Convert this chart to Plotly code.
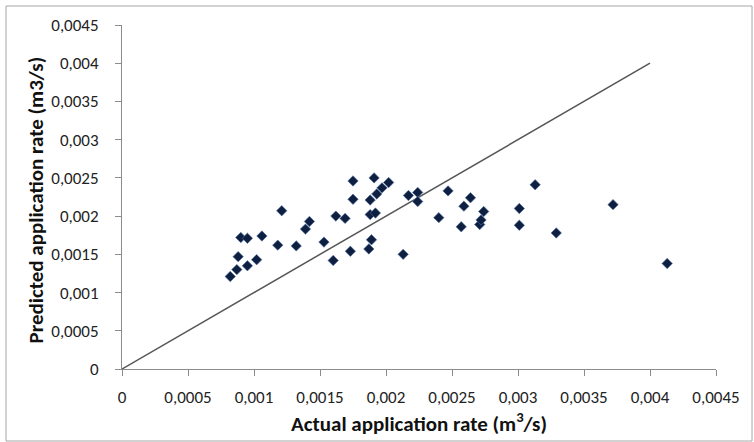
import plotly.graph_objects as go

actual = [0.00082, 0.00087, 0.00088, 0.00090, 0.00095, 0.00095, 0.00102, 0.00106, 0.00118, 0.00121,
          0.00132, 0.00139, 0.00142, 0.00153, 0.00160, 0.00162, 0.00169, 0.00173, 0.00175, 0.00175,
          0.00187, 0.00188, 0.00188, 0.00189, 0.00191, 0.00192, 0.00193, 0.00197, 0.00202, 0.00213,
          0.00217, 0.00224, 0.00224, 0.00240, 0.00247, 0.00257, 0.00259, 0.00264, 0.00271, 0.00272,
          0.00274, 0.00301, 0.00301, 0.00313, 0.00329, 0.00372, 0.00413]
predicted = [0.00121, 0.00130, 0.00147, 0.00172, 0.00171, 0.00135, 0.00143, 0.00174, 0.00162, 0.00207,
             0.00161, 0.00183, 0.00193, 0.00166, 0.00142, 0.00200, 0.00197, 0.00154, 0.00246, 0.00222,
             0.00157, 0.00221, 0.00202, 0.00169, 0.00250, 0.00204, 0.00229, 0.00237, 0.00244, 0.00150,
             0.00227, 0.00231, 0.00219, 0.00198, 0.00233, 0.00186, 0.00213, 0.00224, 0.00189, 0.00195,
             0.00206, 0.00210, 0.00188, 0.00241, 0.00178, 0.00215, 0.00138]
line_x = [0, 0.004]
line_y = [0, 0.004]

tick_vals = [0, 0.0005, 0.001, 0.0015, 0.002, 0.0025, 0.003, 0.0035, 0.004, 0.0045]
tick_text = ["0", "0,0005", "0,001", "0,0015", "0,002", "0,0025", "0,003", "0,0035", "0,004", "0,0045"]

FONT = "Carlito, Open Sans, sans-serif"

fig = go.Figure()
fig.add_trace(go.Scatter(x=line_x, y=line_y, mode="lines",
                         line=dict(color="#555555", width=1.5), hoverinfo="skip", showlegend=False))
fig.add_trace(go.Scatter(x=actual, y=predicted, mode="markers",
                         marker=dict(symbol="diamond", size=8, color="#0f1f40",
                                     line=dict(color="#4a6fa5", width=0.6)),
                         showlegend=False))

axis_common = dict(
    range=[0, 0.0045], tickvals=tick_vals, ticktext=tick_text,
    showgrid=False, zeroline=False, showline=True, linecolor="#8c8c8c", linewidth=1,
    ticks="outside", ticklen=6, tickcolor="#8c8c8c", tickwidth=1,
    tickfont=dict(family=FONT, size=17, color="#222222"),
)

fig.update_layout(
    width=754, height=442,
    margin=dict(l=122, r=38, t=25, b=73),
    paper_bgcolor="white", plot_bgcolor="white",
    xaxis=dict(**axis_common, ticklabelstandoff=7,
               title=dict(text="<b>Actual application rate (m<sup>3</sup>/s)</b>",
                          font=dict(family=FONT, size=21, color="#111111"), standoff=5)),
    yaxis=dict(**axis_common, ticklabelstandoff=13),
    annotations=[dict(text="<b>Predicted application rate (m3/s)</b>", textangle=-90,
                      xref="paper", yref="paper", x=(36 - 122) / 594, y=0.49,
                      xanchor="center", yanchor="middle", showarrow=False,
                      font=dict(family=FONT, size=21, color="#111111"))],
    shapes=[dict(type="rect", xref="paper", yref="paper",
                 x0=(6 - 122) / 594, x1=(752 - 122) / 594,
                 y0=(369 - 441) / 344, y1=(369 - 6) / 344,
                 line=dict(color="#a6a6a6", width=1), fillcolor="rgba(0,0,0,0)", layer="below")],
)

fig.write_html("out.html", config={"displayModeBar": False},
               post_script="document.body.style.margin='0';document.body.style.padding='0';")
